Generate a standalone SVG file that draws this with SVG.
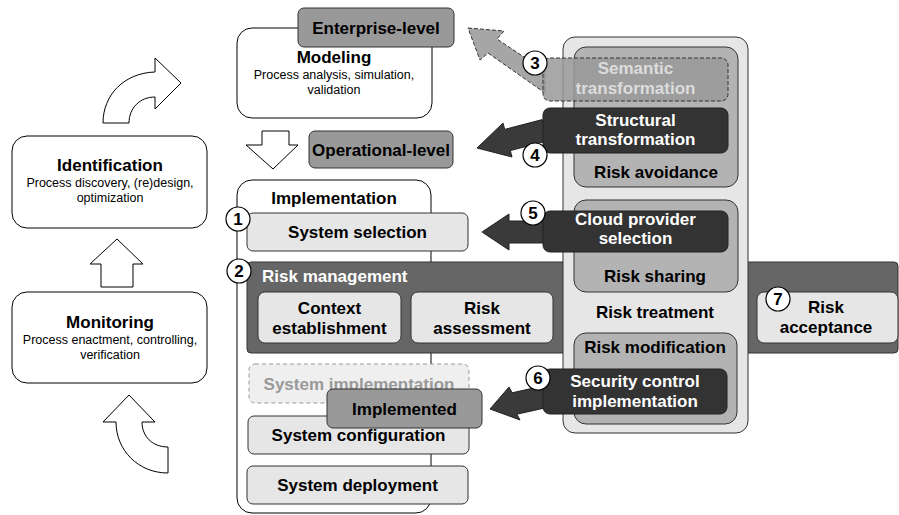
<svg xmlns="http://www.w3.org/2000/svg" width="899" height="515" viewBox="0 0 899 515">
<style>
text{font-family:"Liberation Sans",Arial,sans-serif;}
.b{font-weight:bold;font-size:17px;text-anchor:middle;fill:#000;}
.s{font-size:12.5px;text-anchor:middle;fill:#000;}
.life{fill:#fff;stroke:#000;stroke-width:1;}
.light{fill:#e6e6e6;stroke:#333;stroke-width:1;}
.mid{fill:#999;stroke:#333;stroke-width:1;}
.dark{fill:#333;stroke:#222;stroke-width:1;}
.rt{fill:#b3b3b3;stroke:#333;stroke-width:1;}
.hollow{fill:#fff;stroke:#000;stroke-width:1;stroke-linejoin:miter;}
.darr{fill:#3a3a3a;stroke:#222;stroke-width:1;}
.num{fill:#fff;stroke:#000;stroke-width:1.2;}
</style>

<g id="connectors">
  <path class="hollow" d="M103,123 C103,95 124,73 155,72 L155,58 L181,83 L155,109 L155,97 C140,97 129,108 129,123 Z"/>
  <path class="hollow" d="M101,287 L101,264 L90,264 L117,239 L143,264 L133,264 L133,287 Z"/>
  <path class="hollow" d="M129,395 L155,422 L142,422 C142,436 152,447 168,447 L168,473 C138,473 116,450 116,422 L103,422 Z"/>
  <path class="hollow" d="M262,131 L289,131 L289,145 L298,145 L273,169 L246,145 L262,145 Z"/>
  <path d="M468,28 L504,31 L497,39 L545,71 L545,93 L488,53 L480,60 Z" fill="#a6a6a6" stroke="#333" stroke-width="1" stroke-dasharray="4,2"/>
  <path class="darr" d="M477,148 L503,123 L504.7,129.4 L542.2,119.6 L547.8,140.8 L510.3,150.6 L512,157 Z"/>
  <path class="darr" d="M482,232 L509,214 L509,221 L547,221 L547,243 L509,243 L509,250 Z"/>
  <path class="darr" d="M490,409 L509,387 L512.1,392.8 L542.6,386 L547.4,407.4 L516.9,414.2 L520,420 Z"/>
</g>

<g id="identification">
  <rect class="life" x="12" y="136" width="195" height="92" rx="15"/>
  <text class="b" x="110" y="171">Identification</text>
  <text class="s" x="110" y="186.5">Process discovery, (re)design,</text>
  <text class="s" x="110" y="201.5">optimization</text>
</g>

<g id="monitoring">
  <rect class="life" x="12" y="292" width="195" height="91" rx="15"/>
  <text class="b" x="110" y="328">Monitoring</text>
  <text class="s" x="110" y="343.5">Process enactment, controlling,</text>
  <text class="s" x="110" y="358.5">verification</text>
</g>

<g id="modeling">
  <rect class="life" x="237" y="28" width="195" height="90" rx="15"/>
  <text class="b" x="334" y="63">Modeling</text>
  <text class="s" x="334" y="78.5">Process analysis, simulation,</text>
  <text class="s" x="334" y="93.5">validation</text>
</g>

<g id="enterprise-level">
  <rect class="mid" x="298" y="8" width="156" height="39" rx="6"/>
  <text class="b" x="376" y="33.5">Enterprise-level</text>
</g>

<g id="operational-level">
  <rect class="mid" x="309" y="131" width="144" height="37" rx="6"/>
  <text class="b" x="381" y="155.5">Operational-level</text>
</g>

<g id="implementation">
  <rect class="life" x="237" y="180" width="194" height="333" rx="15"/>
  <text class="b" x="334" y="204">Implementation</text>
</g>

<g id="system-selection">
  <rect class="light" x="247" y="213" width="221" height="38" rx="6"/>
  <text class="b" x="357.5" y="238">System selection</text>
</g>

<g id="risk-management">
  <rect x="247" y="262" width="651" height="91" fill="#666" stroke="#333" stroke-width="1" rx="4"/>
  <text x="262" y="282" font-size="17" font-weight="bold" fill="#fff">Risk management</text>
</g>

<g id="context-establishment">
  <rect class="light" x="258" y="292" width="143" height="51" rx="7"/>
  <text class="b" x="329.5" y="314">Context</text>
  <text class="b" x="329.5" y="334">establishment</text>
</g>

<g id="risk-assessment">
  <rect class="light" x="411" y="292" width="142" height="51" rx="7"/>
  <text class="b" x="482" y="314">Risk</text>
  <text class="b" x="482" y="334">assessment</text>
</g>

<g id="risk-acceptance">
  <rect class="light" x="757" y="292" width="141" height="51" rx="7"/>
  <text class="b" x="826" y="313">Risk</text>
  <text class="b" x="826" y="333">acceptance</text>
</g>

<g id="system-implementation">
  <rect x="249" y="364" width="220" height="39" rx="6" fill="#efefef" stroke="#999" stroke-width="1" stroke-dasharray="4,3"/>
  <text class="b" x="359" y="389.5" style="fill:#999">System implementation</text>
</g>

<g id="system-configuration">
  <rect class="light" x="248" y="416" width="221" height="38" rx="6"/>
  <text class="b" x="358.5" y="441">System configuration</text>
</g>

<g id="implemented">
  <rect class="mid" x="327" y="389" width="155" height="39" rx="6"/>
  <text class="b" x="404.5" y="414.5">Implemented</text>
</g>

<g id="system-deployment">
  <rect class="light" x="247" y="466" width="221" height="38" rx="6"/>
  <text class="b" x="357.5" y="491">System deployment</text>
</g>

<g id="risk-treatment">
  <rect x="563" y="37" width="185" height="396" rx="12" fill="#e6e6e6" stroke="#333" stroke-width="1"/>
  <text class="b" x="655" y="318">Risk treatment</text>
</g>

<g id="risk-avoidance">
  <rect class="rt" x="574" y="47" width="164" height="140" rx="12"/>
  <text class="b" x="656" y="178">Risk avoidance</text>
</g>

<g id="risk-sharing">
  <rect class="rt" x="574" y="200" width="164" height="92" rx="12"/>
  <text class="b" x="655" y="282">Risk sharing</text>
</g>

<g id="risk-modification">
  <rect class="rt" x="574" y="333" width="163" height="91" rx="12"/>
  <text class="b" x="655" y="353">Risk modification</text>
</g>

<g id="semantic-transformation">
  <rect x="543" y="58" width="185" height="43" rx="7" fill="#999" fill-opacity="0.85" stroke="#333" stroke-width="1" stroke-dasharray="4,2"/>
  <text class="b" x="635.5" y="74" style="fill:#dcdcdc">Semantic</text>
  <text class="b" x="635.5" y="94" style="fill:#dcdcdc">transformation</text>
</g>

<g id="structural-transformation">
  <rect class="dark" x="543" y="108" width="185" height="45" rx="7"/>
  <text class="b" x="635.5" y="126" style="fill:#fff">Structural</text>
  <text class="b" x="635.5" y="145" style="fill:#fff">transformation</text>
</g>

<g id="cloud-provider-selection">
  <rect class="dark" x="543" y="211" width="185" height="41" rx="7"/>
  <text class="b" x="635.5" y="225" style="fill:#fff">Cloud provider</text>
  <text class="b" x="635.5" y="244" style="fill:#fff">selection</text>
</g>

<g id="security-control-implementation">
  <rect class="dark" x="543" y="369" width="184" height="45" rx="7"/>
  <text class="b" x="635" y="387" style="fill:#fff">Security control</text>
  <text class="b" x="635" y="407" style="fill:#fff">implementation</text>
</g>

<g id="markers">
  <g id="n1"><circle class="num" cx="238" cy="219" r="12"/><text class="b" x="238" y="225">1</text></g>
  <g id="n2"><circle class="num" cx="239" cy="271" r="12"/><text class="b" x="239" y="277">2</text></g>
  <g id="n3"><circle class="num" cx="535" cy="63" r="12"/><text class="b" x="535" y="69">3</text></g>
  <g id="n4"><circle class="num" cx="535" cy="155" r="12"/><text class="b" x="535" y="161">4</text></g>
  <g id="n5"><circle class="num" cx="533" cy="213" r="12"/><text class="b" x="533" y="219">5</text></g>
  <g id="n6"><circle class="num" cx="538" cy="378" r="12"/><text class="b" x="538" y="384">6</text></g>
  <g id="n7"><circle class="num" cx="778" cy="299" r="12"/><text class="b" x="778" y="305">7</text></g>
</g>
</svg>
